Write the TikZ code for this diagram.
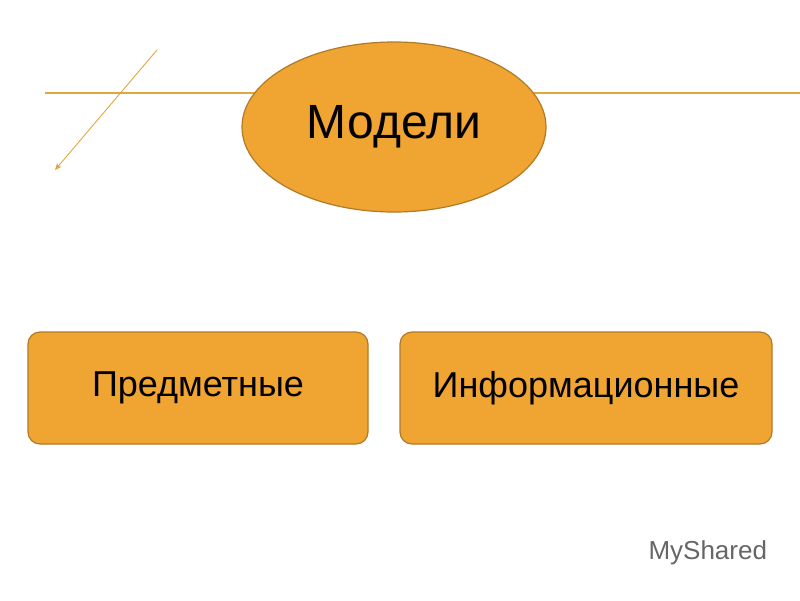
\documentclass[tikz,border=0pt]{standalone}
\usepackage{fontspec}
\setmainfont{Liberation Sans}
\usetikzlibrary{shapes.geometric,arrows.meta}
\definecolor{orfill}{HTML}{F0A431}
\definecolor{ordraw}{HTML}{B07A26}
\definecolor{lineor}{HTML}{DDA83F}
\tikzset{box/.style={draw=ordraw,fill=orfill,line width=1.2pt,rounded corners=12pt,minimum width=340pt,minimum height=112pt,font=\fontsize{36}{40}\selectfont},
thin line/.style={draw=lineor,line width=1.2pt}}
\begin{document}
\begin{tikzpicture}[x=1pt,y=-1pt]
\useasboundingbox (0,0) rectangle (800,600);
\coordinate (hl) at (45,93); \coordinate (hr) at (800,93);
\draw[thin line] (hl) -- (hr);
\coordinate (as) at (157,50); \coordinate (ae) at (55,170);
\draw[thin line,line width=0.9pt,-{Stealth[length=7pt,width=6pt]}] (as) -- (ae);
\node[ellipse,draw=ordraw,fill=orfill,line width=1.2pt,minimum width=304pt,minimum height=170pt,font=\fontsize{48}{54}\selectfont] (m) at (394,127) {Модели};
\node[box] (p) at (198,388) {Предметные};
\node[box,minimum width=372pt] (i) at (586,388) {Информационные};
\node[text=gray!80!black,font=\fontsize{26}{30}\selectfont,anchor=west] (w) at (645,553) {MyShared};
\end{tikzpicture}
\end{document}
